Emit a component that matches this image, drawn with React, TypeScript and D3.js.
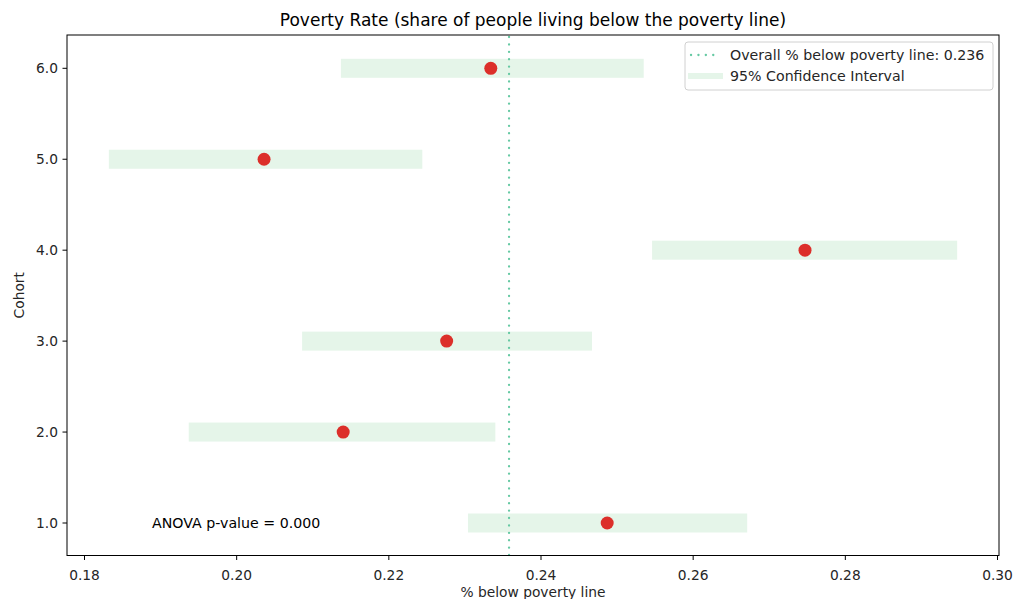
import React from "react";
import * as d3 from "d3";

const cohorts = [1, 2, 3, 4, 5, 6];
const rates = [0.2487, 0.214, 0.2276, 0.2747, 0.2036, 0.2334];
const ciLow = [0.2304, 0.1937, 0.2086, 0.2546, 0.1832, 0.2137];
const ciHigh = [0.2671, 0.234, 0.2467, 0.2947, 0.2244, 0.2535];
const overall = 0.2358;
const xTicks = [0.18, 0.2, 0.22, 0.24, 0.26, 0.28, 0.3];
const yTicks = [1, 2, 3, 4, 5, 6];

const W = 1013, H = 599;
const L = 67, R = 999, T = 35, B = 555.5;
const FONT = "DejaVu Sans, sans-serif";

export default function App() {
  const x = d3.scaleLinear().domain([0.18, 0.3]).range([84.5, 997.5]);
  const y = d3.scaleLinear().domain([1, 6]).range([523, 68.3]);
  const bandH = 19;
  const textCol = "#262626";
  const dot = "0.1 7.3";
  return (
    <svg width={W} height={H} style={{ position: "absolute", left: 0, top: 0 }} fontFamily={FONT}>
      <rect x={0} y={0} width={W} height={H} fill="#fff" />
      <text x={(L + R) / 2} y={26} textAnchor="middle" fontSize={17} fill="#000">
        Poverty Rate (share of people living below the poverty line)
      </text>
      {cohorts.map((c, i) => (
        <rect key={"b" + c} x={x(ciLow[i])} y={y(c) - bandH / 2} width={x(ciHigh[i]) - x(ciLow[i])} height={bandH} fill="#e5f5e9" />
      ))}
      <line x1={x(overall)} x2={x(overall)} y1={T + 2} y2={B} stroke="#66c9a3" strokeWidth={2.3} strokeDasharray={dot} strokeLinecap="round" />
      {cohorts.map((c, i) => (
        <circle key={"p" + c} cx={x(rates[i])} cy={y(c)} r={6.5} fill="#dc2f2a" />
      ))}
      <text x={152} y={y(1)} dominantBaseline="central" fontSize={14.2} fill="#000">ANOVA p-value = 0.000</text>
      <rect x={L} y={T} width={R - L} height={B - T} fill="none" stroke="#000" strokeWidth={1} />
      {xTicks.map((t) => (
        <g key={"x" + t}>
          <line x1={x(t)} x2={x(t)} y1={B} y2={B + 4.5} stroke="#000" />
          <text x={x(t)} y={B + 24} textAnchor="middle" fontSize={13.8} fill={textCol}>{t.toFixed(2)}</text>
        </g>
      ))}
      {yTicks.map((t) => (
        <g key={"y" + t}>
          <line x1={L - 4.5} x2={L} y1={y(t)} y2={y(t)} stroke="#000" />
          <text x={L - 9} y={y(t)} textAnchor="end" dominantBaseline="central" fontSize={13.8} fill={textCol}>{t.toFixed(1)}</text>
        </g>
      ))}
      <text x={(L + R) / 2} y={597} textAnchor="middle" fontSize={13.8} fill={textCol}>% below poverty line</text>
      <text transform={`translate(24,${(T + B) / 2}) rotate(-90)`} textAnchor="middle" fontSize={13.8} fill={textCol}>Cohort</text>
      <g>
        <rect x={685} y={42} width={308} height={48} rx={3} fill="#fff" fillOpacity={0.8} stroke="#d0d0d0" />
        <line x1={691} x2={716} y1={55} y2={55} stroke="#66c9a3" strokeWidth={2.3} strokeDasharray={dot} strokeLinecap="round" />
        <text x={730} y={55} dominantBaseline="central" fontSize={14.2} fill={textCol}>Overall % below poverty line: {overall.toFixed(3)}</text>
        <rect x={688} y={73} width={35} height={6} fill="#e5f5e9" />
        <text x={730} y={76} dominantBaseline="central" fontSize={14.2} fill={textCol}>95% Confidence Interval</text>
      </g>
    </svg>
  );
}
